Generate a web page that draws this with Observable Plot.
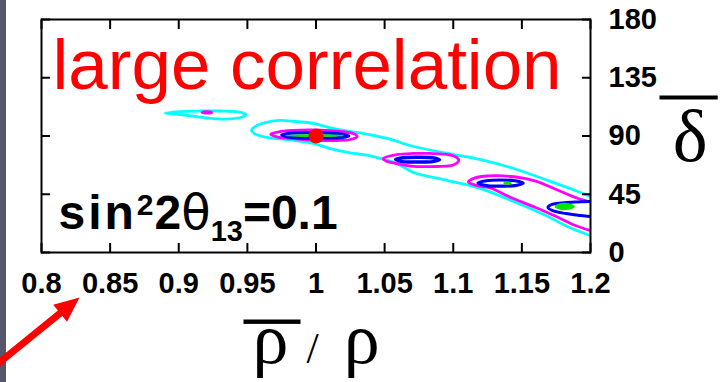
<!DOCTYPE html>
<html><head><meta charset="utf-8">
<script src="https://cdn.jsdelivr.net/npm/d3@7"></script>
<script src="https://cdn.jsdelivr.net/npm/@observablehq/plot@0.6"></script>
<style>
html,body{margin:0;padding:0;background:#fff;}
#chart{width:722px;height:382px;background:linear-gradient(to right,#55566a 0,#55566a 6px,#fff 6px);}
#chart svg{display:block;background:transparent;}
.ovl{text-decoration:overline;text-decoration-thickness:2px;}
</style></head><body><div id="chart"></div>
<script>
// ---- tick values and labels ----
const xTicks = [0.8, 0.85, 0.9, 0.95, 1, 1.05, 1.1, 1.15, 1.2];
const xTickLabels = ["0.8", "0.85", "0.9", "0.95", "1", "1.05", "1.1", "1.15", "1.2"];
const yTicks = [0, 45, 90, 135, 180];
const yTickLabels = ["0", "45", "90", "135", "180"];

// ---- texts ----
const titleText = "large correlation";
const mixingText = "sin²2θ₁₃=0.1";
const xLabelText = "ρ / ρ";
const yLabelText = "δ";

// ---- contours: [rho-bar/rho, delta-bar] ----
const cyanLoopA = [[0.890,107.7],[0.901,108.9],[0.916,109.3],[0.930,109.3],[0.944,108.5],[0.949,106.6],[0.945,104.3],[0.934,103.1],[0.921,103.9],[0.909,105.5],[0.898,107.0]];
const cyanBandB = [[1.200,43.3],[1.189,47.9],[1.169,55.6],[1.144,64.9],[1.120,71.8],[1.096,76.5],[1.071,81.9],[1.052,88.1],[1.035,91.9],[1.022,93.9],[1.009,96.6],[0.998,99.7],[0.985,101.2],[0.973,102.0],[0.963,100.4],[0.957,98.1],[0.953,94.6],[0.955,91.9],[0.963,89.2],[0.985,86.5],[0.998,84.2],[1.009,80.7],[1.022,77.6],[1.040,74.5],[1.059,68.8],[1.071,61.8],[1.096,55.6],[1.120,49.4],[1.144,39.4],[1.169,27.8],[1.183,20.1],[1.200,13.1]];
const magentaDotA = [[0.917,108.3],[0.9205,108.9],[0.924,108.2],[0.9205,107.6]];
const magentaLoopB = [[0.967,91.5],[0.974,93.5],[0.989,94.6],[1.003,94.6],[1.018,93.5],[1.027,91.9],[1.030,89.6],[1.025,87.3],[1.011,86.5],[0.996,86.9],[0.981,88.1],[0.972,89.2]];
const magentaLoopC = [[1.049,72.6],[1.059,75.7],[1.071,76.5],[1.083,76.5],[1.096,75.7],[1.102,73.8],[1.104,71.1],[1.100,67.6],[1.083,66.4],[1.069,66.8],[1.058,68.8],[1.051,70.7]];
const magentaBandD = [[1.200,39.0],[1.191,41.7],[1.175,48.7],[1.160,55.2],[1.142,58.7],[1.125,59.1],[1.116,57.6],[1.111,54.5],[1.116,52.1],[1.127,49.8],[1.142,42.5],[1.160,34.8],[1.175,27.8],[1.189,20.9],[1.200,17.0]];
const blueLoopA = [[0.975,90.8],[0.982,92.2],[1.000,92.6],[1.017,91.7],[1.024,90.0],[1.017,88.7],[1.000,88.4],[0.982,89.0]];
const blueLoopB = [[1.058,71.9],[1.063,73.2],[1.074,73.6],[1.085,73.2],[1.090,71.6],[1.085,70.2],[1.074,69.9],[1.063,70.2]];
const blueLoopC = [[1.118,53.7],[1.124,55.4],[1.134,56.0],[1.145,55.4],[1.151,53.7],[1.145,51.7],[1.134,51.3],[1.124,51.7]];
const blueBandD = [[1.200,39.4],[1.189,39.0],[1.179,38.2],[1.172,37.1],[1.169,34.8],[1.173,32.1],[1.182,30.1],[1.193,28.6],[1.200,27.8]];
const greenLoopA = [[0.978,90.4],[0.999,90.8],[1.020,90.4],[0.999,89.9]];
const greenDotB = [[1.137,53.5],[1.1395,54.0],[1.142,53.5],[1.1395,53.0]];
const greenFillC = [[1.1745,35.5],[1.178,37.5],[1.184,37.5],[1.188,35.5],[1.184,33.6],[1.178,33.6]];

// ---- points ----
const bestFit = [{rho: 1.0, delta: 90}];
const arrowTip = [{rho: 0.8277, delta: -34.8}];

const CYAN = "#00ffff", MAGENTA = "#ff00ff", BLUE = "#0000ff", GREEN = "#00e600", RED = "#ff0000";
const SW = 2.8;
const closedLine = (data, stroke, extra = {}) => Plot.line(data, {x: d => d[0], y: d => d[1], stroke, strokeWidth: SW, curve: "catmull-rom-closed", clip: true, ...extra});
const openLine = (data, stroke, extra = {}) => Plot.line(data, {x: d => d[0], y: d => d[1], stroke, strokeWidth: SW, curve: "catmull-rom", clip: true, ...extra});

const arrowShape = {
  draw(ctx, l) {
    const h = 25, w = 11, s = 3.5;
    ctx.moveTo(-s, 0); ctx.lineTo(-s, -l + h); ctx.lineTo(-w, -l + h); ctx.lineTo(0, -l);
    ctx.lineTo(w, -l + h); ctx.lineTo(s, -l + h); ctx.lineTo(s, 0); ctx.closePath();
  }
};

const SANS = "'Liberation Sans', Arial, Helvetica, sans-serif";
const SERIF = "'Liberation Serif', 'Times New Roman', serif";
const xFmt = d => xTickLabels[xTicks.indexOf(d)];
const yFmt = d => yTickLabels[yTicks.indexOf(d)];

const svg = Plot.plot({
  width: 722, height: 382,
  marginLeft: 41, marginRight: 132, marginTop: 19, marginBottom: 130,
  x: {domain: [0.8, 1.2]},
  y: {domain: [0, 180]},
  style: {background: "transparent", fontFamily: SANS, color: "black"},
  marks: [
    closedLine(cyanLoopA, CYAN),
    openLine(cyanBandB, CYAN),
    closedLine(magentaDotA, MAGENTA),
    closedLine(magentaLoopB, MAGENTA),
    closedLine(magentaLoopC, MAGENTA),
    openLine(magentaBandD, MAGENTA),
    closedLine(blueLoopA, BLUE, {strokeWidth: 3.2}),
    closedLine(blueLoopB, BLUE, {strokeWidth: 3.4}),
    closedLine(blueLoopC, BLUE, {strokeWidth: 3.2}),
    openLine(blueBandD, BLUE, {strokeWidth: 3}),
    closedLine(greenLoopA, GREEN, {strokeWidth: 1.5}),
    closedLine(greenDotB, GREEN, {strokeWidth: 1.5}),
    closedLine(greenFillC, GREEN, {fill: GREEN, strokeWidth: 1.5}),
    Plot.dot(bestFit, {x: "rho", y: "delta", r: 7.5, fill: RED, stroke: "none"}),
    Plot.frame({stroke: "black", strokeWidth: 2}),
    Plot.axisX(xTicks, {anchor: "bottom", tickSize: -9, strokeWidth: 2, fill: "none", label: null, tickFormat: () => ""}),
    Plot.axisX(xTicks, {anchor: "top", tickSize: -9, strokeWidth: 2, fill: "none", label: null, tickFormat: () => ""}),
    Plot.axisY(yTicks, {anchor: "left", tickSize: -9, strokeWidth: 2, fill: "none", label: null, tickFormat: () => ""}),
    Plot.axisY(yTicks, {anchor: "right", tickSize: -9, strokeWidth: 2, fill: "none", label: null, tickFormat: () => ""}),
    Plot.axisX(xTicks, {anchor: "bottom", tickSize: 0, tickPadding: 20, tickFormat: xFmt, fontSize: 29, fontWeight: "bold", letterSpacing: 1, label: null}),
    Plot.axisY(yTicks, {anchor: "right", tickSize: 0, tickPadding: 18, tickFormat: yFmt, fontSize: 29, fontWeight: "bold", letterSpacing: 1, label: null}),
    Plot.text([titleText], {text: d => d, frameAnchor: "top-left", textAnchor: "start", lineAnchor: "bottom", dx: 11, dy: 69, fontSize: 71, fill: RED}),
    Plot.text([mixingText], {text: d => d, frameAnchor: "bottom-left", textAnchor: "start", lineAnchor: "bottom", dx: 17, dy: -24, fontSize: 48, fontWeight: "bold", fill: "black"}),
    Plot.text([xLabelText], {text: d => d, frameAnchor: "bottom-left", textAnchor: "start", lineAnchor: "bottom", dx: 202, dy: 110, fontSize: 72, fontFamily: SERIF, fill: "black"}),
    Plot.text([yLabelText], {text: d => d, frameAnchor: "top-right", textAnchor: "start", lineAnchor: "bottom", dx: 69, dy: 141, fontSize: 74, fontFamily: SERIF, fill: "black"}),
    Plot.vector(arrowTip, {x: "rho", y: "delta", anchor: "end", length: 112, rotate: 51, shape: arrowShape, fill: RED, stroke: "none"})
  ]
});

const NB = "\u00a0";
const root = d3.select(svg);
root.selectAll("text").filter(function() { return this.textContent === mixingText; }).each(function() {
  const t = d3.select(this); t.text(null);
  t.append("tspan").attr("letter-spacing", 3).text("sin");
  t.append("tspan").attr("font-size", 30).attr("dy", -14).text("2");
  t.append("tspan").attr("dx", 1).attr("dy", 14).text("2");
  t.append("tspan").attr("font-family", "'DejaVu Sans', sans-serif").attr("font-weight", "normal").text("θ");
  t.append("tspan").attr("font-size", 29).attr("dy", 12).text("13");
  t.append("tspan").attr("dy", -12).text("=0.1");
});
root.selectAll("text").filter(function() { return this.textContent === xLabelText; }).each(function() {
  const t = d3.select(this); t.text(null);
  t.append("tspan").attr("class", "ovl").attr("font-size", 44).attr("letter-spacing", 0.4).text(NB.repeat(5));
  t.append("tspan").attr("dx", -48).text("ρ");
  t.append("tspan").attr("font-size", 44).attr("dx", 18).text("/");
  t.append("tspan").attr("dx", 25).text("ρ");
});
root.selectAll("text").filter(function() { return this.textContent === yLabelText; }).each(function() {
  const t = d3.select(this); t.text(null);
  t.append("tspan").attr("class", "ovl").attr("font-size", 40).attr("letter-spacing", -0.3).attr("dy", -25).text(NB.repeat(6));
  t.append("tspan").attr("dx", -45).attr("dy", 25).text("δ");
});

document.getElementById("chart").appendChild(svg);
</script></body></html>
